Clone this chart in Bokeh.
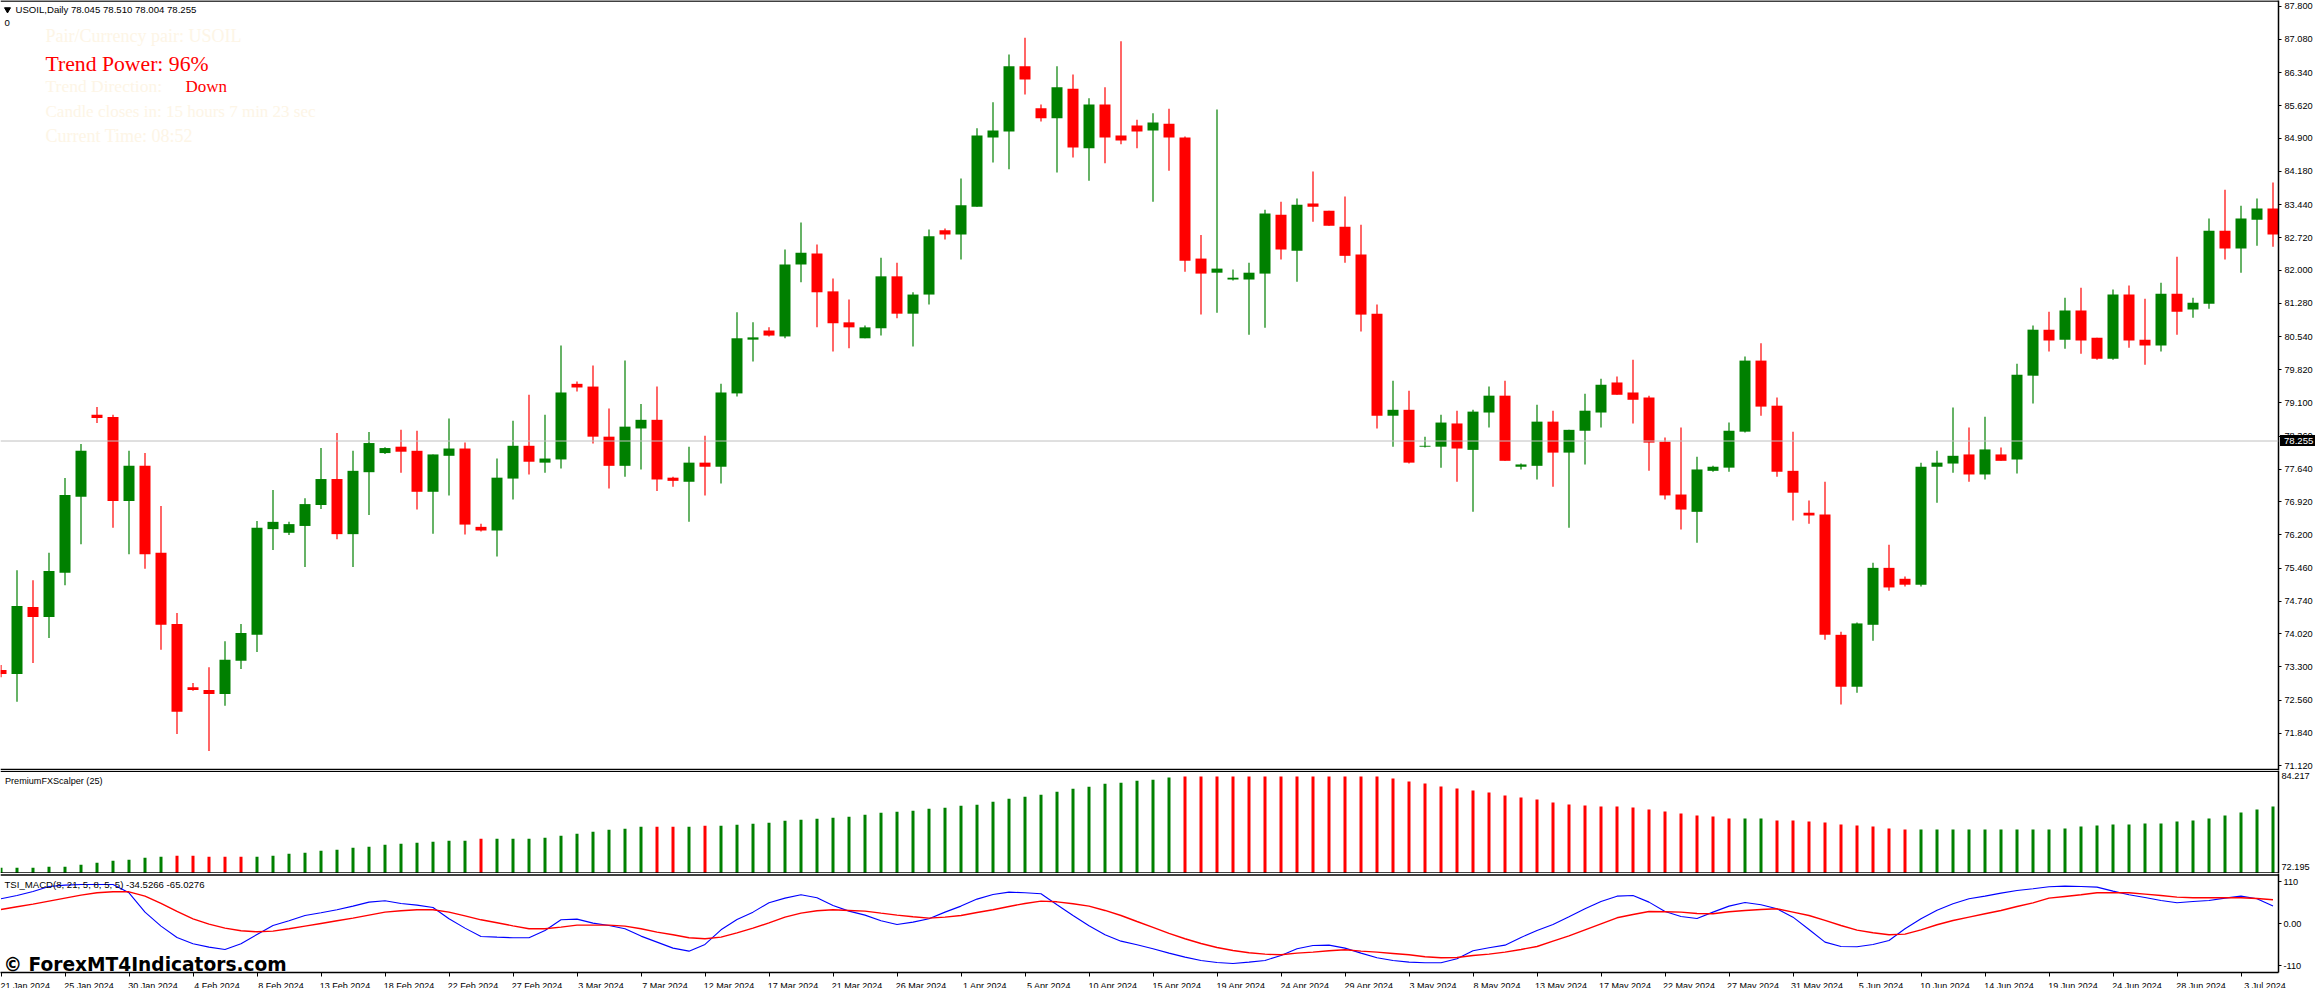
from bokeh.embed import file_html
from bokeh.resources import INLINE
from bokeh.plotting import figure
from bokeh.layouts import column
from bokeh.models import ColumnDataSource, Range1d, Span, Label, FixedTicker, NumeralTickFormatter, Div

opens = [73.23,73.14,74.61,74.39,75.36,77.03,78.83,78.78,76.94,77.71,
75.80,74.24,72.85,72.79,72.70,73.43,74.00,76.32,76.24,76.39,
76.85,77.42,76.21,77.57,77.99,78.13,78.04,77.14,77.93,78.09,
76.37,76.29,77.43,78.15,77.78,77.85,79.51,79.45,78.35,77.71,
78.53,78.72,77.45,77.36,77.78,77.69,79.30,80.48,80.68,80.55,
82.13,82.37,81.54,80.86,80.51,80.73,81.87,81.05,81.47,82.88,
82.79,83.40,84.92,85.05,86.48,85.56,85.34,85.99,84.68,85.64,
84.96,85.18,85.07,85.22,84.92,82.26,81.95,81.80,81.80,81.93,
83.22,82.43,83.47,83.31,82.96,82.35,81.05,78.81,78.94,78.13,
78.13,78.64,78.06,78.88,79.25,77.69,77.71,78.68,78.00,78.48,
78.88,79.54,79.32,79.21,78.24,77.08,76.70,77.60,77.67,78.46,
80.02,79.03,77.60,76.68,76.64,74.00,72.86,74.22,75.47,75.23,
75.10,77.69,77.76,77.96,77.52,77.96,77.85,79.69,80.70,80.48,
81.12,80.52,80.06,81.47,80.48,80.35,81.49,81.14,81.27,82.87,
82.48,83.11,83.36]
highs = [73.34,75.42,75.20,75.80,77.44,78.19,79.00,78.83,78.04,77.99,
76.83,74.48,72.94,73.29,73.86,74.24,76.50,77.18,76.48,77.00,
78.10,78.43,78.04,78.45,78.12,78.50,78.48,77.96,78.75,78.22,
76.44,77.87,78.70,79.27,78.83,80.35,79.56,79.91,78.97,80.02,
79.07,79.45,77.47,78.13,78.37,79.51,81.08,80.86,80.75,82.46,
83.05,82.57,81.82,81.36,80.79,82.28,82.17,81.52,82.90,82.92,
84.02,85.12,85.69,86.74,87.11,85.64,86.48,86.30,85.78,86.02,
87.03,85.31,85.45,85.55,84.94,82.78,85.53,82.02,82.17,83.33,
83.51,83.58,84.17,83.31,83.62,83.00,81.25,79.58,79.36,78.35,
78.83,78.92,78.94,79.45,79.58,77.76,79.05,78.92,78.50,79.29,
79.62,79.67,80.04,79.25,78.33,78.55,77.91,77.71,78.66,80.11,
80.40,79.21,78.46,76.95,77.36,74.07,74.27,75.58,75.98,75.28,
77.78,78.04,78.99,78.55,78.79,78.11,79.95,80.79,81.09,81.40,
81.62,80.52,81.58,81.67,81.38,81.73,82.30,81.40,83.14,83.77,
83.42,83.58,83.93]
lows = [73.07,72.53,73.38,73.93,75.09,75.99,78.65,76.35,75.77,75.45,
73.67,71.82,72.77,71.45,72.44,73.25,73.62,75.86,76.19,75.49,
76.76,76.10,75.49,76.63,77.97,77.56,76.75,76.22,77.06,76.20,
76.27,75.72,76.97,77.52,77.56,77.65,79.34,78.20,77.21,77.47,
77.63,77.16,77.25,76.48,77.06,77.32,79.23,80.00,80.55,80.51,
81.74,80.75,80.22,80.29,80.51,80.57,80.95,80.33,81.25,82.68,
82.24,83.40,84.37,84.22,85.86,85.27,84.15,84.48,83.97,84.35,
84.77,84.68,83.51,84.19,81.97,81.03,81.07,81.78,80.59,80.74,
82.24,81.75,83.07,82.98,82.17,80.66,78.53,78.13,77.76,78.11,
77.67,77.36,76.70,78.55,77.82,77.63,77.41,77.25,76.35,77.74,
78.55,79.27,78.64,77.60,76.97,76.31,76.02,77.58,77.58,78.44,
78.81,77.47,76.51,76.44,73.89,72.47,72.73,73.87,74.97,75.06,
75.06,76.90,77.56,77.36,77.41,77.82,77.54,79.08,80.22,80.28,
80.17,80.04,80.04,80.30,79.93,80.22,80.59,80.96,81.16,82.24,
81.95,82.54,82.52]
closes = [73.14,74.63,74.39,75.40,77.07,78.04,78.76,76.94,77.71,75.77,
74.22,72.31,72.79,72.70,73.45,74.04,76.35,76.48,76.43,76.87,
77.42,76.21,77.60,78.21,78.10,78.02,77.14,77.96,78.09,76.42,
76.29,77.45,78.15,77.80,77.87,79.32,79.43,78.35,77.71,78.57,
78.72,77.41,77.38,77.78,77.69,79.32,80.51,80.53,80.57,82.13,
82.39,81.52,80.84,80.75,80.75,81.87,81.05,81.47,82.75,82.79,
83.43,84.96,85.07,86.48,86.19,85.34,86.02,84.70,85.64,84.92,
84.85,85.05,85.25,84.92,82.21,81.93,82.04,81.84,81.95,83.25,
82.46,83.44,83.40,82.98,82.32,81.03,78.81,78.94,77.78,78.15,
78.66,78.09,78.90,79.25,77.82,77.74,78.68,78.00,78.50,78.92,
79.49,79.27,79.16,78.22,77.06,76.75,77.63,77.69,78.48,80.02,
79.01,77.58,77.12,76.62,74.00,72.86,74.25,75.47,75.04,75.10,
77.69,77.78,77.93,77.52,78.07,77.82,79.71,80.70,80.46,81.12,
80.46,80.06,81.47,80.46,80.35,81.49,81.09,81.29,82.87,82.48,
83.14,83.36,82.79]

hist_values = [72.82,72.82,72.82,72.94,72.94,73.19,73.44,73.69,73.82,74.07,
74.19,74.32,74.32,74.19,74.19,74.19,74.19,74.32,74.57,74.69,
74.94,75.07,75.32,75.44,75.69,75.81,75.94,76.06,76.19,76.19,
76.44,76.44,76.44,76.44,76.56,76.81,77.06,77.31,77.56,77.69,
77.94,77.94,77.94,77.94,78.06,78.06,78.19,78.31,78.44,78.69,
78.81,78.93,79.06,79.18,79.43,79.68,79.81,79.93,80.18,80.31,
80.56,80.68,81.06,81.43,81.68,81.93,82.30,82.68,82.93,83.30,
83.43,83.68,83.80,84.09,84.217,84.217,84.217,84.217,84.217,84.217,
84.217,84.217,84.217,84.217,84.217,84.217,84.217,83.97,83.59,83.34,
82.97,82.72,82.47,82.22,81.85,81.60,81.35,80.97,80.72,80.60,
80.47,80.47,80.35,80.10,79.85,79.60,79.35,79.23,78.98,78.98,
78.98,78.73,78.73,78.60,78.48,78.23,78.10,77.98,77.73,77.60,
77.60,77.60,77.60,77.60,77.60,77.60,77.60,77.60,77.60,77.73,
77.98,78.10,78.23,78.23,78.35,78.35,78.60,78.73,78.98,79.35,
79.72,80.10,80.47]
hist_red_bars = [11,12,13,14,15,30,41,42,44] + list(range(74,109)) + list(range(111,120))

macd_blue = [65.7,74.5,85.0,98.2,101.7,103.4,103.4,103.4,81.5,30.7,
-6.1,-35.9,-52.6,-61.4,-67.5,-52.6,-28.0,-4.4,7.9,21.9,
28.9,36.8,46.5,57.0,60.5,53.5,49.1,42.9,13.1,-11.4,
-33.3,-35.1,-36.8,-36.8,-17.5,10.5,12.3,1.8,-4.4,-13.1,
-32.4,-48.2,-64.0,-71.9,-54.3,-15.8,11.4,30.7,55.2,67.5,
76.3,68.4,48.2,33.3,22.8,7.9,-1.8,4.4,13.1,30.7,
46.5,64.9,77.1,83.3,81.5,78.9,50.0,21.9,-5.3,-28.9,
-45.6,-55.2,-65.7,-77.1,-87.7,-96.4,-101.7,-104.3,-100.8,-96.4,
-83.3,-65.7,-57.0,-56.1,-64.0,-77.1,-89.4,-96.4,-100.8,-102.6,
-102.6,-92.0,-71.0,-63.1,-56.1,-35.9,-17.5,-1.8,18.4,39.4,
58.7,72.7,74.5,57.0,32.4,19.3,14.0,30.7,46.5,56.1,
50.0,39.4,17.5,-14.9,-48.2,-59.6,-60.5,-54.3,-43.8,-13.1,
13.1,35.9,52.6,65.7,72.7,80.6,87.7,92.0,97.3,99.0,
98.2,96.4,85.9,76.3,69.2,61.4,55.2,58.7,61.4,67.5,
72.7,65.7,46.5]
macd_red = [37.7,44.7,51.7,59.6,67.5,75.4,81.5,84.1,84.1,72.7,
53.5,32.4,13.1,-0.9,-11.4,-18.4,-21.0,-19.3,-13.1,-6.1,
0.9,7.9,14.9,22.8,30.7,34.2,36.8,36.8,30.7,21.0,
10.5,2.6,-5.3,-13.1,-13.1,-8.8,-3.5,-3.5,-3.5,-6.1,
-13.1,-21.9,-28.9,-36.8,-39.4,-35.1,-23.7,-11.4,2.6,17.5,
28.0,34.2,36.8,35.1,33.3,28.0,22.8,18.4,14.9,17.5,
21.9,29.8,36.8,45.6,53.5,59.6,57.8,52.6,46.5,35.1,
21.9,6.1,-9.6,-25.4,-39.4,-51.7,-62.2,-70.1,-76.3,-79.8,
-81.5,-77.1,-74.5,-71.0,-68.4,-71.9,-74.5,-78.0,-81.5,-86.8,
-89.4,-88.5,-83.3,-79.8,-74.5,-67.5,-59.6,-45.6,-31.6,-15.8,
0.0,15.8,24.5,32.4,31.6,30.7,27.2,26.3,31.6,35.1,
37.7,39.4,30.7,21.9,8.8,-4.4,-16.7,-23.7,-28.9,-27.2,
-15.8,-2.6,8.8,17.5,26.3,35.1,45.6,55.2,67.5,71.9,
76.3,81.5,81.5,81.5,78.0,74.5,70.1,68.4,68.4,68.4,
68.4,66.6,63.1]

price_ticks = [87.80,87.08,86.34,85.62,84.90,84.18,83.44,82.72,82.00,81.28,80.54,79.82,
               79.10,78.36,77.64,76.92,76.20,75.46,74.74,74.02,73.30,72.56,71.84,71.12]
date_labels = ["21 Jan 2024","25 Jan 2024","30 Jan 2024","4 Feb 2024","8 Feb 2024","13 Feb 2024",
               "18 Feb 2024","22 Feb 2024","27 Feb 2024","3 Mar 2024","7 Mar 2024","12 Mar 2024",
               "17 Mar 2024","21 Mar 2024","26 Mar 2024","1 Apr 2024","5 Apr 2024","10 Apr 2024",
               "15 Apr 2024","19 Apr 2024","24 Apr 2024","29 Apr 2024","3 May 2024","8 May 2024",
               "13 May 2024","17 May 2024","22 May 2024","27 May 2024","31 May 2024","5 Jun 2024",
               "10 Jun 2024","14 Jun 2024","19 Jun 2024","24 Jun 2024","28 Jun 2024","3 Jul 2024"]
last_price = 78.255

n = len(opens)
idx = list(range(n))
GREEN, RED = "#008000", "#FF0000"
CREAM = "#FDF5E6"
UI = "Liberation Sans"
SERIF = "Liberation Serif"

xr = dict(start=-0.5/16, end=(2278-0.5)/16)

def base(h, y0, y1, **kw):
    p = figure(width=2315, height=h, output_backend="svg", toolbar_location=None,
               x_range=Range1d(**xr), y_range=Range1d(y0, y1), y_axis_location="right",
               min_border_left=0, min_border_top=0, min_border_bottom=kw.pop("mb", 0),
               min_border_right=37, outline_line_color=None, background_fill_color="white",
               border_fill_color="white", **kw)
    p.grid.visible = False
    p.yaxis.axis_line_color = "black"
    p.yaxis.axis_line_width = 1.5
    p.yaxis.major_label_text_font = UI
    p.yaxis.major_label_text_font_size = "9.2px"
    p.yaxis.major_label_text_color = "black"
    p.yaxis.minor_tick_line_color = None
    p.yaxis.major_tick_in = 0
    p.yaxis.major_tick_out = 3
    p.yaxis.major_tick_line_color = "black"
    return p

def note(p, px, py, text, color="black", size="9.6px", font=UI, style="normal", **kw):
    tr = p._top_px
    sc = p._per_px
    p.add_layout(Label(x=(px-0.5)/16, y=p.y_range.end-(py-tr)*sc, text=text, text_color=color,
                       text_font=font, text_font_size=size, text_font_style=style,
                       text_align="left", text_baseline="middle", **kw))

# ---------- main price panel
per_px = 1/45.55
p1 = base(770, last_price-(770-440.5)*per_px, last_price+440.5*per_px)
p1._top_px, p1._per_px = 0, per_px
p1.xaxis.visible = False
p1.yaxis.ticker = FixedTicker(ticks=price_ticks)
p1.yaxis.formatter = NumeralTickFormatter(format="0.000")
p1.yaxis.major_label_standoff = 3

up = [i for i in idx if closes[i] >= opens[i]]
dn = [i for i in idx if closes[i] < opens[i]]
for group, col in ((up, GREEN), (dn, RED)):
    src = ColumnDataSource(dict(
        x=group,
        o=[opens[i] for i in group], c=[closes[i] for i in group],
        h=[highs[i] for i in group], l=[lows[i] for i in group]))
    p1.segment("x", "l", "x", "h", source=src, line_color=col, line_width=1.2)
    p1.vbar("x", width=11/16, top="o", bottom="c", source=src, fill_color=col, line_color=None)

p1.add_layout(Span(location=last_price, dimension="width", line_color="#c0c0c0", line_width=1))
p1.add_layout(Span(location=p1.y_range.end-0.6*per_px, dimension="width", line_color="black", line_width=1.5))
p1.add_layout(Span(location=p1.y_range.end-769*per_px, dimension="width", line_color="black", line_width=1.3))

p1.scatter([6.5/16], [p1.y_range.end-9*per_px], marker="inverted_triangle", size=6, color="black")
note(p1, 15, 8.5, "USOIL,Daily  78.045 78.510 78.004 78.255")
note(p1, 4, 22, "0")
note(p1, 45, 35.7, "Pair/Currency pair: USOIL", CREAM, "18px", SERIF)
note(p1, 45, 63, "Trend Power: 96%", RED, "21.7px", SERIF)
note(p1, 45, 85.7, "Trend Direction:", CREAM, "17.5px", SERIF)
note(p1, 185, 85.7, "Down", RED, "17px", SERIF)
note(p1, 45, 110.7, "Candle closes in: 15 hours 7 min 23 sec", CREAM, "17px", SERIF)
note(p1, 45, 135.7, "Current Time: 08:52", CREAM, "18px", SERIF)

# ---------- current price tag, laid over the price axis
tag = Div(text=f"{last_price:.3f}", width=35, height=11, margin=0,
          styles={"position": "absolute", "left": "2280px", "top": "435px", "z-index": "10",
                  "background-color": "black", "color": "white", "font-family": UI,
                  "font-size": "9.6px", "line-height": "11px", "padding-left": "4px",
                  "box-sizing": "border-box", "overflow": "hidden"})

# ---------- histogram panel
hper = 0.1248
p2 = base(103, 72.195-0.7*hper, 72.195+102.3*hper)
p2._top_px, p2._per_px = 770, hper
p2.xaxis.visible = False
hist_label_low = p2.y_range.start + (873-866)*hper
p2.yaxis.ticker = FixedTicker(ticks=[84.217, hist_label_low])
p2.yaxis.major_label_overrides = {84.217: "84.217", hist_label_low: "72.195"}
p2.yaxis.major_tick_out = 0
p2.yaxis.major_tick_line_color = None
p2.yaxis.major_label_standoff = 3
hsrc = ColumnDataSource(dict(x=idx, top=hist_values,
                             color=[RED if i in hist_red_bars else GREEN for i in idx]))
p2.vbar("x", width=3/16, top="top", bottom=p2.y_range.start, source=hsrc, fill_color="color", line_color=None)
p2.add_layout(Span(location=p2.y_range.end-0.8*hper, dimension="width", line_color="black", line_width=1.3))
p2.add_layout(Span(location=72.195-0.2*hper, dimension="width", line_color="black", line_width=1.5))
note(p2, 4.5, 780, "PremiumFXScalper (25)", size="9.1px")

# ---------- MACD panel
mper = 110/41.83
p3 = base(115, -((972-923.3)*mper), (923.3-873)*mper, mb=16)
p3.frame_height = 99
p3._top_px, p3._per_px = 873, mper
p3.yaxis.ticker = FixedTicker(ticks=[110, 0, -110])
p3.yaxis.major_label_overrides = {110: "110", 0: "0.00", -110: "-110"}
p3.yaxis.major_label_standoff = 2
p3.line(idx, macd_blue, line_color="#0000FF", line_width=1.1)
p3.line(idx, macd_red, line_color=RED, line_width=1.4)
p3.add_layout(Span(location=p3.y_range.end-1.5*mper, dimension="width", line_color="black", line_width=1.5))
note(p3, 4, 884, "TSI_MACD(8, 21, 5, 8, 5, 5) -34.5266 -65.0276")
note(p3, 3, 964, "© ForexMT4Indicators.com", "black", "18.6px", "DejaVu Sans", "bold")

tick_bars = list(range(0, 141, 4))
label_x = [t + 24.0/16 for t in tick_bars]
ax = p3.xaxis[0]
ax.ticker = FixedTicker(ticks=label_x, minor_ticks=tick_bars)
ax.major_label_overrides = {x: s for x, s in zip(label_x, date_labels)}
ax.major_tick_in = 0
ax.major_tick_out = 0
ax.major_tick_line_color = None
ax.minor_tick_in = 0
ax.minor_tick_out = 4
ax.minor_tick_line_color = "black"
ax.axis_line_color = "black"
ax.axis_line_width = 1.5
ax.major_label_standoff = 4
ax.major_label_text_font = UI
ax.major_label_text_font_size = "9px"
ax.major_label_text_color = "black"

page = column(p1, p2, p3, tag, spacing=0, styles={"position": "absolute", "left": "0px", "top": "0px"})
open("out.html", "w").write(file_html(page, INLINE))
